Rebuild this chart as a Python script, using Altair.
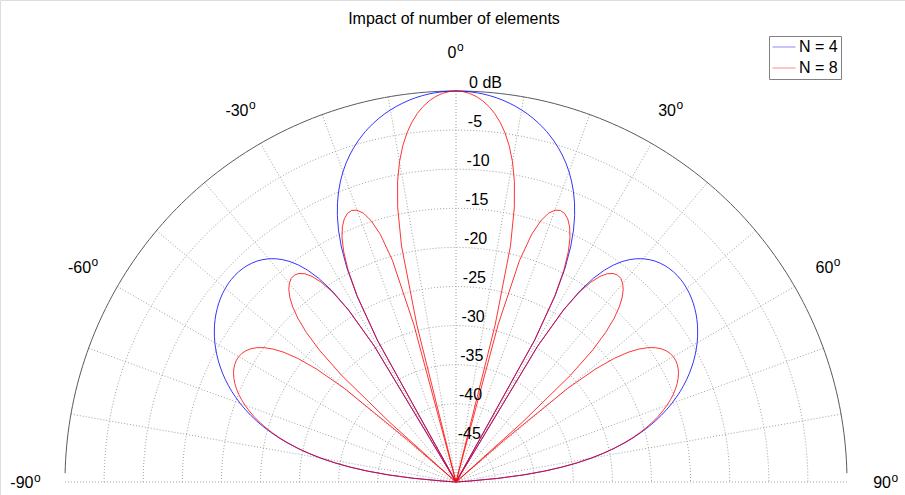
import altair as alt
import numpy as np
import pandas as pd

# ---------------- data ----------------
title_text = "Impact of number of elements"
series_names = ["N = 4", "N = 8"]
series_colors = ["#0000ff", "#ff0000"]

# angle (deg) of each sample on the right half; the pattern is symmetric about 0 deg
theta_deg = [0, 1, 2, 3, 4, 5, 6, 7, 8, 9, 10, 11, 12, 13, 14, 14.48,
             15, 16, 17, 18, 19, 20, 21, 22, 23, 24, 25, 26, 27, 28, 29, 30, 31, 32,
             33, 34, 35, 36, 37, 38, 39, 40, 41, 42, 43, 44, 45, 46, 47, 48, 48.59,
             49, 50, 51, 52, 53, 54, 55, 56, 57, 58, 59, 60, 61, 62, 63, 64, 65, 66,
             67, 68, 69, 70, 71, 72, 73, 74, 75, 76, 77, 78, 79, 80, 81, 82, 83, 84,
             85, 86, 87, 88, 89, 90]

# level in dB (curves stop at the -50 dB centre)
db_n4 = [0.00, -0.02, -0.07, -0.15, -0.26, -0.41, -0.59, -0.81, -1.07, -1.36, -1.69,
         -2.06, -2.47, -2.93, -3.44, -3.70,
         -4.00, -4.61, -5.29, -6.03, -6.85, -7.76, -8.78, -9.92, -11.21, -12.70,
         -14.44, -16.56, -19.26, -22.99, -29.24, -50.00, -29.74, -23.99, -20.76,
         -18.56, -16.94, -15.69, -14.70, -13.90, -13.26, -12.74, -12.32, -11.98,
         -11.73, -11.54, -11.41, -11.33, -11.30, -11.32, -11.35,
         -11.38, -11.49, -11.62, -11.80, -12.01, -12.26, -12.53, -12.84, -13.18,
         -13.56, -13.96, -14.39, -14.86, -15.36, -15.89, -16.46, -17.06, -17.69,
         -18.37, -19.08, -19.84, -20.64, -21.49, -22.40, -23.36, -24.38, -25.48,
         -26.66, -27.93, -29.31, -30.81, -32.46, -34.28, -36.32, -38.63, -41.31,
         -44.47, -48.35, -50.00, -50.00, -50.00, -50.00]

db_n8 = [0.00, -0.07, -0.28, -0.63, -1.13, -1.79, -2.62, -3.66, -4.93, -6.48, -8.41,
         -10.85, -14.13, -19.03, -29.33, -50.00,
         -29.13, -20.51, -16.88, -14.85, -13.65, -13.01, -12.80, -12.95, -13.44,
         -14.28, -15.51, -17.23, -19.62, -23.15, -29.28, -50.00, -29.78, -24.14,
         -21.10, -19.18, -17.90, -17.08, -16.61, -16.43, -16.51, -16.84, -17.41,
         -18.24, -19.38, -20.89, -22.90, -25.69, -29.95, -38.64, -50.00,
         -41.96, -31.43, -27.03, -24.32, -22.44, -21.07, -20.05, -19.28, -18.72,
         -18.32, -18.06, -17.92, -17.89, -17.96, -18.11, -18.35, -18.66, -19.04,
         -19.50, -20.02, -20.62, -21.28, -22.01, -22.81, -23.69, -24.64, -25.68,
         -26.81, -28.05, -29.39, -30.87, -32.49, -34.30, -36.33, -38.64, -41.31,
         -44.48, -48.35, -50.00, -50.00, -50.00, -50.00]

db_min, db_max = -50, 0
ring_db = [-45, -40, -35, -30, -25, -20, -15, -10, -5]
ring_text = ["-45", "-40", "-35", "-30", "-25", "-20", "-15", "-10", "-5", "0 dB"]
ring_text_db = [-45, -40, -35, -30, -25, -20, -15, -10, -5, 0]
spoke_deg = [-90, -80, -70, -60, -50, -40, -30, -20, -10, 0, 10, 20, 30, 40, 50, 60, 70, 80, 90]
angle_label_deg = [-90, -60, -30, 0, 30, 60, 90]

assert len(theta_deg) == len(db_n4) == len(db_n8)

# ---------------- layout ----------------
FONT = "Liberation Sans"
W, H = 905, 495
CX, CY, RPX = 456.0, 482.0, 391.0          # centre and 0 dB radius in pixels
XDOM = [-CX / RPX, (W - CX) / RPX]
YDOM = [-(H - CY) / RPX, CY / RPX]
xs = alt.Scale(domain=XDOM, nice=False, zero=False)
ys = alt.Scale(domain=YDOM, nice=False, zero=False)


def X(f):
    return alt.X(f"{f}:Q", scale=xs, axis=None)


def Y(f):
    return alt.Y(f"{f}:Q", scale=ys, axis=None)


def rad(db):
    return (db - db_min) / (db_max - db_min)


# ---------------- tables ----------------
pat_rows = []
full_theta = [-t for t in reversed(theta_deg[1:])] + theta_deg
for name, vals in zip(series_names, [db_n4, db_n8]):
    full_db = list(reversed(vals[1:])) + vals
    for i, (t, d) in enumerate(zip(full_theta, full_db)):
        pat_rows.append({"series": name, "theta": t, "db": d, "idx": i})
pat_df = pd.DataFrame(pat_rows)

grid_t = np.arange(-90, 91, 1.0)
ring_rows = []
for d in ring_db:
    r = rad(d)
    for k, t in enumerate(grid_t):
        ring_rows.append({"ring": d, "k": k, "x": r * np.sin(np.radians(t)),
                          "y": r * np.cos(np.radians(t))})
ring_df = pd.DataFrame(ring_rows)

spoke_rows = []
for s in spoke_deg:
    spoke_rows.append({"spoke": s, "k": 0, "x": 0.0, "y": 0.0})
    spoke_rows.append({"spoke": s, "k": 1, "x": np.sin(np.radians(s)), "y": np.cos(np.radians(s))})
spoke_df = pd.DataFrame(spoke_rows)

outer_t = np.linspace(-88.7, 88.7, 178)
outer_df = pd.DataFrame({"k": np.arange(len(outer_t)),
                         "x": np.sin(np.radians(outer_t)),
                         "y": np.cos(np.radians(outer_t))})

# radial labels, just right of the 0 deg spoke, above each ring
phi = np.radians(1.85)
rl_df = pd.DataFrame({
    "label": ring_text,
    "x": [rad(d) * np.sin(phi) + 0.5 / RPX for d in ring_text_db],
    "y": [rad(d) * np.cos(phi) for d in ring_text_db],
})

# angle labels at 1.1 R ; number + superscript "o"
FS = 16
al_rows = []
for a in angle_label_deg:
    lab = str(a)
    w_num = FS * (0.556 * sum(c.isdigit() for c in lab) + 0.333 * lab.count("-"))
    px = 1.1 * np.sin(np.radians(a))
    py = 1.1 * np.cos(np.radians(a))
    anchor = px + ((w_num - 8.0) / 2.0) / RPX
    al_rows.append({"label": lab, "x": anchor, "y": py, "sup": "o"})
al_df = pd.DataFrame(al_rows)

# title, centred above the plot (baseline 24 px from the top)
title_df = pd.DataFrame({"label": [title_text], "x": [-2.0 / RPX], "y": [(CY - 24.0) / RPX]})

# ---------------- layers ----------------
grid_style = dict(strokeDash=[1, 2], strokeWidth=1, color="#a0a0a0")

rings = alt.Chart(ring_df).mark_line(**grid_style).encode(
    x=X("x"), y=Y("y"), detail="ring:N", order="k:Q")
spokes = alt.Chart(spoke_df).mark_line(**grid_style).encode(
    x=X("x"), y=Y("y"), detail="spoke:N", order="k:Q")
outer = alt.Chart(outer_df).mark_line(strokeWidth=1, color="#5a5a5a").encode(
    x=X("x"), y=Y("y"), order="k:Q")

pattern = alt.Chart(pat_df).transform_calculate(
    rr=f"max(0, (datum.db - ({db_min})) / ({db_max - db_min}))"
).transform_calculate(
    px="datum.rr * sin(datum.theta * PI / 180)",
    py="datum.rr * cos(datum.theta * PI / 180)",
).mark_line(strokeWidth=0.8).encode(
    x=X("px"), y=Y("py"),
    color=alt.Color("series:N",
                    scale=alt.Scale(domain=series_names, range=series_colors),
                    legend=alt.Legend(title=None, orient="none", legendX=769, legendY=36,
                                      symbolType="stroke", symbolSize=529,
                                      symbolStrokeWidth=1, symbolOpacity=0.45,
                                      clipHeight=16, labelFontSize=16,
                                      labelFont=FONT, labelColor="black",
                                      strokeColor="#808080", fillColor="white",
                                      padding=3, rowPadding=5, labelOffset=3)),
    order="idx:Q")

radial_labels = alt.Chart(rl_df).mark_text(
    align="left", baseline="alphabetic", dy=-3.5, fontSize=FS, font=FONT, color="black"
).encode(x=X("x"), y=Y("y"), text="label:N")

angle_nums = alt.Chart(al_df).mark_text(
    align="right", baseline="alphabetic", dy=6, fontSize=FS, font=FONT, color="black"
).encode(x=X("x"), y=Y("y"), text="label:N")
angle_sup = alt.Chart(al_df).mark_text(
    align="left", baseline="alphabetic", dy=-0.5, dx=0.5, fontSize=12, font=FONT, color="black"
).encode(x=X("x"), y=Y("y"), text="sup:N")

title = alt.Chart(title_df).mark_text(
    align="center", baseline="alphabetic", fontSize=FS, font=FONT, color="black"
).encode(x=X("x"), y=Y("y"), text="label:N")

chart = alt.layer(rings, spokes, outer, pattern, radial_labels, angle_nums, angle_sup,
                  title).properties(
    width=W, height=H,
    autosize=alt.AutoSizeParams(type="none"),
    padding=0,
).configure_view(stroke=None).configure(background="white")

chart.save("out.html", embed_options={"renderer": "svg", "actions": False})
